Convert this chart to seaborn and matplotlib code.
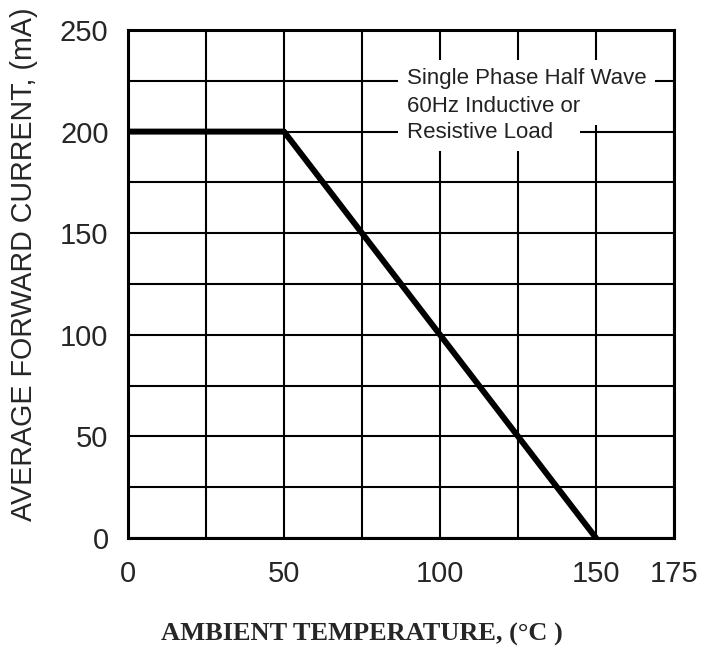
import seaborn as sns
import pandas as pd
from matplotlib import pyplot as plt

# derating curve
temp = [0, 50, 150]
current = [200, 200, 0]

x_ticks = [0, 50, 100, 150, 175]
x_minor = [25, 75, 125]
y_ticks = [0, 50, 100, 150, 200, 250]
y_minor = [25, 75, 125, 175, 225]

note_top = "Single Phase Half Wave\n60Hz Inductive or"
note_bottom = "Resistive Load   "

df = pd.DataFrame({'temp': temp, 'current': current})

sns.set_style('white')
plt.rcParams['font.family'] = ['Liberation Sans', 'DejaVu Sans']

fig = plt.figure(figsize=(7.1, 6.48), dpi=100)
ax = fig.add_axes([0.1803, 0.1698, 0.769, 0.7839])

sns.lineplot(x='temp', y='current', data=df, color='black', linewidth=4.3, ax=ax, zorder=4)

ax.set_xlim(0, 175)
ax.set_ylim(0, 250)
ax.set_xticks(x_ticks)
ax.set_xticks(x_minor, minor=True)
ax.set_yticks(y_ticks)
ax.set_yticks(y_minor, minor=True)
ax.grid(True, which='both', color='black', linewidth=1.5)
ax.set_axisbelow(True)
ax.tick_params(axis='both', which='both', length=0, labelsize=21)
ax.tick_params(axis='x', pad=16)
ax.tick_params(axis='y', pad=14)

for s in ax.spines.values():
    s.set_visible(True)
    s.set_color('black')
    s.set_linewidth(2.2)

ax.set_ylabel('AVERAGE FORWARD CURRENT, (mA)', fontsize=20.6)
ax.yaxis.set_label_coords(-0.165, 0.539)
ax.set_xlabel('AMBIENT TEMPERATURE, (°C )', fontsize=19, fontweight='bold',
              family=['Liberation Serif', 'DejaVu Serif'])
ax.xaxis.set_label_coords(0.429, -0.168)

box = dict(facecolor='white', edgecolor='none', pad=6)
ax.text(89.4, 219.3, note_top, fontsize=16, ha='left', va='center', linespacing=1.4,
        color='#222222', bbox=box, zorder=3)
ax.text(89.4, 199.6, note_bottom, fontsize=16, ha='left', va='center',
        color='#222222', bbox=box, zorder=3)

plt.savefig('out.png', dpi=100)
